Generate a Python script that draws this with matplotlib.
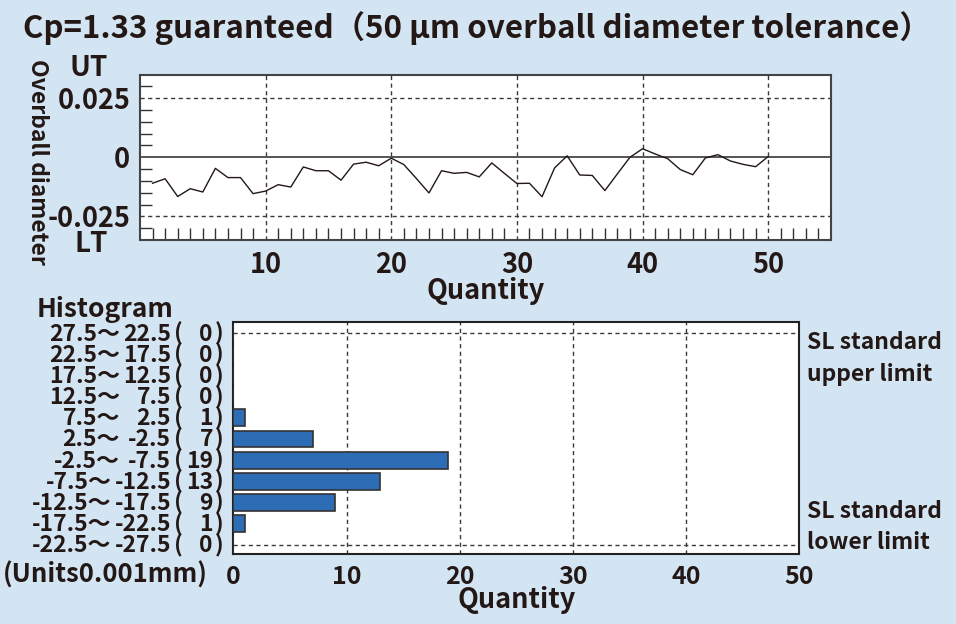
import matplotlib
matplotlib.use("Agg")
import matplotlib.pyplot as plt
import matplotlib.transforms as mtransforms
import numpy as np

W, H = 956, 624
BG = "#d3e4f2"
INK = "#231815"
BLUE = "#2c6db5"
GRID = "#3a3a3a"
DASH = (0, (3, 2.5))

plt.rcParams["font.family"] = ["Noto Sans CJK JP", "DejaVu Sans"]
plt.rcParams["font.weight"] = "bold"
plt.rcParams["text.color"] = INK
plt.rcParams["xtick.color"] = INK
plt.rcParams["ytick.color"] = INK

# run chart: overball diameter deviation per sample, in 0.001 mm
sample_no = list(range(1, 51))
deviation_um = [
    -11.0, -9.1, -16.6, -13.3, -14.7, -4.7, -8.6, -8.6, -15.4, -14.3,
    -11.6, -12.6, -4.1, -5.7, -5.7, -9.7, -2.9, -2.1, -3.6, -0.4,
    -3.1, -9.0, -15.1, -5.7, -6.8, -6.4, -8.3, -2.4, -6.8, -11.1,
    -11.0, -16.7, -4.5, 0.6, -7.5, -7.7, -14.1, -7.0, 0.0, 3.6,
    1.4, -0.6, -5.2, -7.4, -0.3, 1.1, -1.6, -3.0, -4.0, 0.3,
]
y_ticks = [-0.025, 0, 0.025]
y_tick_labels = ["-0.025", "0", "0.025"]

# histogram of the same deviations (0.001 mm bins)
bin_upper = [27.5, 22.5, 17.5, 12.5, 7.5, 2.5, -2.5, -7.5, -12.5, -17.5, -22.5]
bin_lower = [22.5, 17.5, 12.5, 7.5, 2.5, -2.5, -7.5, -12.5, -17.5, -22.5, -27.5]
bin_counts = [0, 0, 0, 0, 1, 7, 19, 13, 9, 1, 0]


def fig_box(left, top, right, bottom):
    return [left / W, 1 - bottom / H, (right - left) / W, (bottom - top) / H]


def fx(px):
    return px / W


def fy(py):
    return 1 - py / H


fig = plt.figure(figsize=(W / 100, H / 100), dpi=100, facecolor=BG)
renderer = fig.canvas.get_renderer()

fig.text(fx(23), fy(38), "Cp=1.33 guaranteed（50 µm overball diameter tolerance）",
         fontsize=22.5, ha="left", va="baseline")

# --- run chart ---
ax1 = fig.add_axes(fig_box(140, 74.5, 831, 240))
deviation = np.array(deviation_um) / 1000.0
ax1.plot(sample_no, deviation, color=INK, lw=1.0, zorder=3)
ax1.set_xlim(0, 55)
ax1.set_ylim(-0.035, 0.035)
ax1.axhline(0, color="#555555", lw=1.4, zorder=2)
for v in (0.025, -0.025):
    ax1.axhline(v, color=GRID, lw=1.0, ls=DASH, zorder=1)
for q in range(10, 51, 10):
    ax1.axvline(q, color=GRID, lw=1.0, ls=DASH, zorder=1)

ax1.set_xticks(range(10, 51, 10))
ax1.set_xticks(range(1, 55), minor=True)
ax1.set_yticks(y_ticks)
ax1.set_yticklabels(y_tick_labels)
ax1.set_yticks(np.arange(-0.03, 0.0301, 0.005), minor=True)
ax1.tick_params(which="minor", direction="in", length=8.5, width=1.0, color="#333333")
ax1.tick_params(which="major", direction="in", length=0, labelsize=19.5)
ax1.tick_params(axis="x", which="major", pad=8)
ax1.tick_params(axis="y", which="major", pad=7)
for s in ax1.spines.values():
    s.set_color("#444444")
    s.set_linewidth(1.5)

fig.text(fx(108), fy(67.5), "UT", fontsize=20, ha="right", va="center")
fig.text(fx(108), fy(243.5), "LT", fontsize=20, ha="right", va="center")
fig.text(fx(37), fy(162), "Overball diameter", fontsize=16.5, rotation=270,
         ha="center", va="center")
fig.text(fx(486), fy(299), "Quantity", fontsize=19.5, ha="center", va="baseline")

# --- histogram ---
ax2 = fig.add_axes(fig_box(233.3, 322.3, 799.3, 554))
centers = [(u + l) / 2 for u, l in zip(bin_upper, bin_lower)]
ax2.barh(centers, bin_counts, height=4, color=BLUE, edgecolor="#333333", lw=1.2, zorder=3)
ax2.set_xlim(0, 50)
ax2.set_ylim(-27.2, 27.6)
for q in range(10, 50, 10):
    ax2.axvline(q, color=GRID, lw=1.0, ls=DASH, zorder=1)
for v in (25, -25):
    ax2.axhline(v, color=GRID, lw=1.0, ls=DASH, zorder=1)
ax2.set_xticks(range(0, 51, 10))
ax2.set_yticks([])
ax2.tick_params(axis="x", length=0, labelsize=18, pad=8)
for s in ax2.spines.values():
    s.set_color("#222222")
    s.set_linewidth(1.5)

# row labels "upper～lower(count)", laid out in columns
row_tr = mtransforms.blended_transform_factory(fig.transFigure, ax2.transData)
lab_size = 16.5
ref = fig.text(0, 0, "22.5", fontsize=lab_size)
ref_w = ref.get_window_extent(renderer).width
ref.remove()
for c, u, l, n in zip(centers, bin_upper, bin_lower, bin_counts):
    yb = c - 1.75
    lo = fig.text(fx(171), yb, f"{l:g}", transform=row_tr, fontsize=lab_size,
                  ha="right", va="baseline")
    lo_left = min(lo.get_window_extent(renderer).x0, 171 - ref_w)
    fig.text(fx(lo_left - 3), yb, f"{u:g}～", transform=row_tr, fontsize=lab_size,
             ha="right", va="baseline")
    fig.text(fx(174), yb, "(", transform=row_tr, fontsize=lab_size, ha="left", va="baseline")
    fig.text(fx(213), yb, str(n), transform=row_tr, fontsize=lab_size, ha="right", va="baseline")
    fig.text(fx(215), yb, ")", transform=row_tr, fontsize=lab_size, ha="left", va="baseline")

fig.text(fx(37), fy(317), "Histogram", fontsize=19, ha="left", va="baseline")
fig.text(fx(3), fy(583), "(Units0.001mm)", fontsize=18.5, ha="left", va="baseline")
fig.text(fx(517), fy(608), "Quantity", fontsize=19.5, ha="center", va="baseline")

fig.text(fx(807), fy(349), "SL standard", fontsize=16.5, ha="left", va="baseline")
fig.text(fx(807), fy(381), "upper limit", fontsize=16.5, ha="left", va="baseline")
fig.text(fx(807), fy(517.5), "SL standard", fontsize=16.5, ha="left", va="baseline")
fig.text(fx(807), fy(549), "lower limit", fontsize=16.5, ha="left", va="baseline")

fig.savefig("out.png", dpi=100, facecolor=BG)
